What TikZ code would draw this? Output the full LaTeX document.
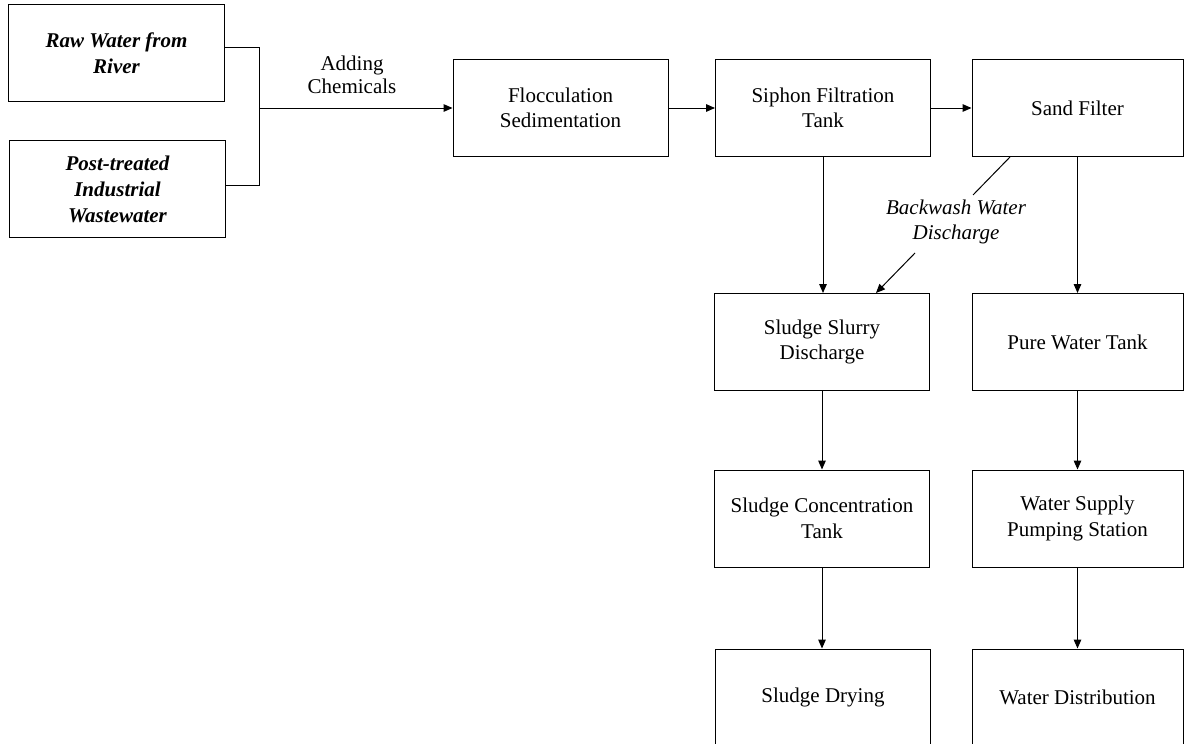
\documentclass[tikz,border=0pt]{standalone}
\usepackage{fontspec}
\setmainfont{Liberation Serif}
\usetikzlibrary{arrows.meta}
\tikzset{
  box/.style={draw, line width=0.5pt, minimum width=107.5pt, minimum height=48.5pt,
    align=center, inner sep=2pt},
  rbox/.style={box, minimum width=105.5pt},
  srcbox/.style={box, minimum width=108pt, font=\bfseries\itshape\fontsize{10.5}{13}\selectfont},
  flow/.style={-{Triangle[length=4.5pt,width=3.8pt]}, line width=0.5pt},
  link/.style={line width=0.5pt},
}
\begin{document}
\begin{tikzpicture}[x=0.5pt, y=-0.5pt, font=\fontsize{10.5}{12.8}\selectfont]
  \useasboundingbox (0,0) rectangle (1184,744);
  % sources
  \node[srcbox] (raw) at (116.5,53) {Raw Water from\\River};
  \node[srcbox] (post) at (117.5,189) {Post-treated\\Industrial\\Wastewater};
  % top row
  \node[box] (flocc) at (560.5,108) {Flocculation\\Sedimentation};
  \node[box] (siphon) at (823,108) {Siphon Filtration\\Tank};
  \node[rbox] (sand) at (1077.5,108) {Sand Filter};
  % sludge side
  \node[box] (slurry) at (822,342) {Sludge Slurry\\Discharge};
  \node[box] (conc) at (822,518.5) {Sludge Concentration\\Tank};
  \node[box] (drying) at (823,697.5) {Sludge Drying};
  % water side
  \node[rbox] (pure) at (1077.5,342) {Pure Water Tank};
  \node[rbox] (pump) at (1077.5,518.5) {Water Supply\\Pumping Station};
  \node[rbox] (distrib) at (1077.5,697.5) {Water Distribution};
  % joining the two sources
  \coordinate (jn) at (259,108);
  \draw[link] ([yshift=3pt]raw.east) -| (jn);
  \draw[link] ([yshift=2pt]post.east) -| (jn);
  \draw[flow] (jn) -- (flocc.west);
  \node[align=center, font=\fontsize{10.5}{11.5}\selectfont] (chem) at (352,75) {Adding\\Chemicals};
  % main line
  \draw[flow] (flocc.east) -- (siphon.west);
  \draw[flow] (siphon.east) -- (sand.west);
  \draw[flow] (siphon.south) -- (siphon.south |- slurry.north);
  \draw[flow] (sand.south) -- (pure.north);
  % backwash
  \node[font=\itshape\fontsize{10.5}{12.8}\selectfont, align=center] (bw) at (956,222)
    {Backwash Water\\Discharge};
  \coordinate (bwend) at (973,195);
  \coordinate (bwstart) at (915,253);
  \draw[link] ([xshift=-33.75pt]sand.south) -- (bwend);
  \draw[flow] (bwstart) -- ([xshift=27pt]slurry.north);
  % downstream
  \draw[flow] (slurry.south) -- (slurry.south |- conc.north);
  \draw[flow] (conc.south) -- (conc.south |- drying.north);
  \draw[flow] (pure.south) -- (pump.north);
  \draw[flow] (pump.south) -- (distrib.north);
\end{tikzpicture}
\end{document}
